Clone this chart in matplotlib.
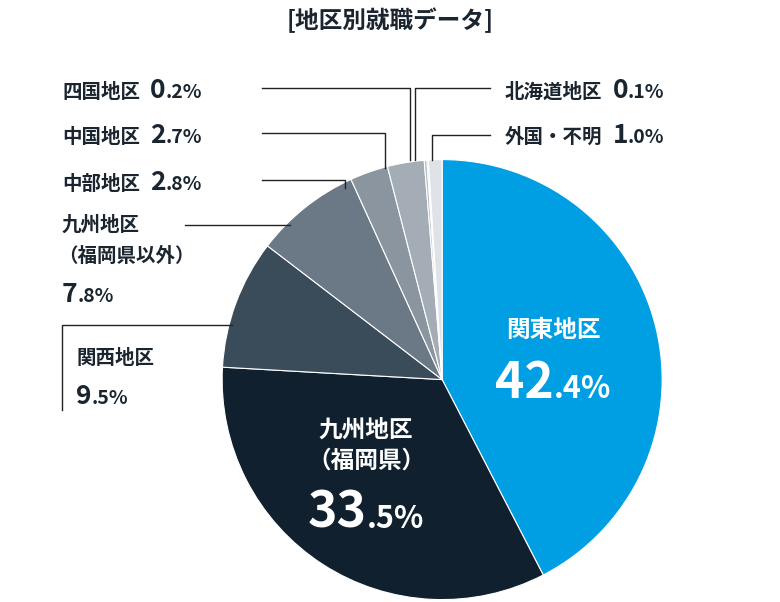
import matplotlib.pyplot as plt

plt.rcParams['font.family'] = ['Noto Sans CJK JP', 'DejaVu Sans']
plt.rcParams['font.weight'] = 'bold'

regions = ['関東地区', '九州地区(福岡県)', '関西地区', '九州地区(福岡県以外)', '中部地区',
           '中国地区', '四国地区', '北海道地区', '外国・不明']
shares = [42.4, 33.5, 9.5, 7.8, 2.8, 2.7, 0.2, 0.1, 1.0]
colors = ['#009fe3', '#10202e', '#3a4b5a', '#6b7885', '#8b959f',
          '#a4adb5', '#b8bfc6', '#c8ced3', '#dfe3e7']

fig = plt.figure(figsize=(7.8, 6.02), dpi=100)
ax = fig.add_axes([0.2848, 0.004, 0.5641, 0.7309])
ax.pie(shares, colors=colors, startangle=90, counterclock=False,
       wedgeprops=dict(linewidth=0.8, edgecolor='white'))
ax.set_xlim(-1, 1)
ax.set_ylim(-1, 1)
ax.set_aspect('equal')

# overlay in pixel coordinates for labels and leader lines
ov = fig.add_axes([0, 0, 1, 1], facecolor='none')
ov.set_xlim(0, 780)
ov.set_ylim(602, 0)
ov.axis('off')
dark = '#1a2530'
renderer = fig.canvas.get_renderer()

ov.text(390, 20, '[地区別就職データ]', ha='center', va='center', fontsize=17, color=dark)


def seq(x, y, parts, color, ha='left'):
    # parts: list of (text, fontsize, gap_before)
    objs = []
    cx = x
    for s, fs, gap in parts:
        cx += gap
        t = ov.text(cx, y, s, ha='left', va='baseline', fontsize=fs, color=color)
        cx += t.get_window_extent(renderer).width
        objs.append(t)
    if ha == 'center':
        shift = (cx - x) / 2
        for t in objs:
            px, py = t.get_position()
            t.set_position((px - shift, py))


side = [
    (62, 98, '四国地区', '0', '.2%'),
    (62, 143, '中国地区', '2', '.7%'),
    (62, 190, '中部地区', '2', '.8%'),
    (505, 98, '北海道地区', '0', '.1%'),
    (505, 143, '外国・不明', '1', '.0%'),
]
for x, y, name, b, s in side:
    seq(x, y, [(name, 14, 0), (b, 19, 10), (s, 14, 0)], dark)

ov.text(62, 225, '九州地区', ha='left', va='center', fontsize=14, color=dark)
ov.text(58, 256, '（福岡県以外）', ha='left', va='center', fontsize=14, color=dark)
seq(62, 302, [('7', 19, 0), ('.8%', 14, 0)], dark)

ov.text(76, 358, '関西地区', ha='left', va='center', fontsize=14, color=dark)
seq(76, 404, [('9', 19, 0), ('.5%', 14, 0)], dark)

# inner labels
ov.text(553, 330, '関東地区', ha='center', va='center', fontsize=17, color='white')
seq(553, 398, [('42', 36, 0), ('.4%', 22, 0)], 'white', ha='center')
ov.text(366, 430, '九州地区', ha='center', va='center', fontsize=17, color='white')
ov.text(366, 461, '（福岡県）', ha='center', va='center', fontsize=17, color='white')
seq(366, 528, [('33', 36, 0), ('.5%', 22, 0)], 'white', ha='center')

# leader lines
lc = '#222222'
lines = [
    ([262, 410, 410], [88, 88, 160]),
    ([490, 415, 415], [88, 88, 160]),
    ([490, 432, 432], [135, 135, 160]),
    ([262, 385, 385], [133, 133, 168]),
    ([262, 345, 345], [180, 180, 188]),
    ([185, 290], [225, 225]),
    ([62, 62, 232], [410, 325, 325]),
]
for xs, ys in lines:
    ov.plot(xs, ys, color=lc, linewidth=1)

fig.savefig('out.png', dpi=100)
